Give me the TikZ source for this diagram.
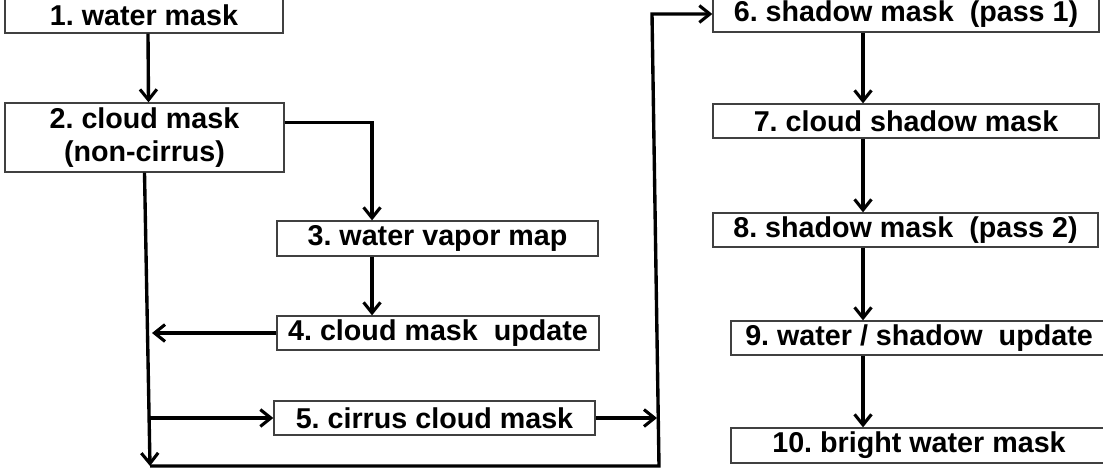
\documentclass[tikz,border=0pt]{standalone}
\usepackage{fontspec}
\setmainfont{Liberation Sans}
\usetikzlibrary{arrows.meta,calc}
\frenchspacing

\begin{document}
\begin{tikzpicture}[x=0.025cm,y=-0.025cm,
    stage/.style={draw=black!75,line width=0.9pt,fill=white,inner sep=0pt,
      minimum height=0.85cm,align=center,
      font=\fontsize{20.4}{24}\selectfont\bfseries},
    flow/.style={line width=2.4pt,line join=miter,
      -{Straight Barb[length=7.5pt,width=12pt,line width=2.2pt]}}]
  \clip (0,0) rectangle (1103,475);
  \fill[white] (0,0) rectangle (1103,475);
  % left column
  \node[stage,minimum width=6.95cm,minimum height=0.9cm] (b1) at (144,15) {1. water mask};
  \node[stage,minimum width=6.975cm,minimum height=1.725cm] (b2) at (144.5,137.5) {2. cloud mask\\(non-cirrus)};
  \node[stage,minimum width=8.025cm,minimum height=0.875cm] (b3) at (437.5,238.5) {3. water vapor map};
  \node[stage,minimum width=8.05cm] (b4) at (438,333) {4. cloud mask~~update};
  \node[stage,minimum width=8.025cm] (b5) at (434.5,418) {5. cirrus cloud mask};
  % right column
  \node[stage,minimum width=9.65cm,minimum height=0.9cm] (b6) at (906,14) {6. shadow mask~~(pass 1)};
  \node[stage,minimum width=9.65cm] (b7) at (906,121) {7. cloud shadow mask};
  \node[stage,minimum width=9.625cm] (b8) at (905.5,230) {8. shadow mask~~(pass 2)};
  \node[stage,minimum width=9.4cm] (b9) at (919,338) {9. water / shadow~~update};
  \node[stage,minimum width=9.4cm,minimum height=0.875cm] (b10) at (919,445.5) {10. bright water mask};
  % routing points
  \coordinate (lane) at (372,0);
  \coordinate (spine) at (863,0);
  \coordinate (drop) at (150,466);
  \coordinate (corner) at (659,466);
  \coordinate (rise) at (652,14);
  % connectors
  \draw[flow] ($(b1.south)+(4,0)$) -- ($(b2.north)+(4,0)$);
  \draw[flow] ($(b2.east)+(0,-15)$) -| (b3.north -| lane);
  \draw[flow] (b3.south -| lane) -- (b4.north -| lane);
  \draw[flow] (b4.west) -- ($(b4.west -| drop)+(2,0)$);
  \draw[flow] (b2.south) -- (drop);
  \draw[flow] (b5.west -| drop) -- (b5.west);
  \draw[flow] (b5.east) -- ($(b5.east -| corner)+(-2,0)$);
  \draw[flow] (drop) -- (corner) -- (rise) -- (b6.west);
  \draw[flow] (b6.south -| spine) -- (b7.north -| spine);
  \draw[flow] (b7.south -| spine) -- (b8.north -| spine);
  \draw[flow] (b8.south -| spine) -- (b9.north -| spine);
  \draw[flow] (b9.south -| spine) -- (b10.north -| spine);
\end{tikzpicture}
\end{document}
